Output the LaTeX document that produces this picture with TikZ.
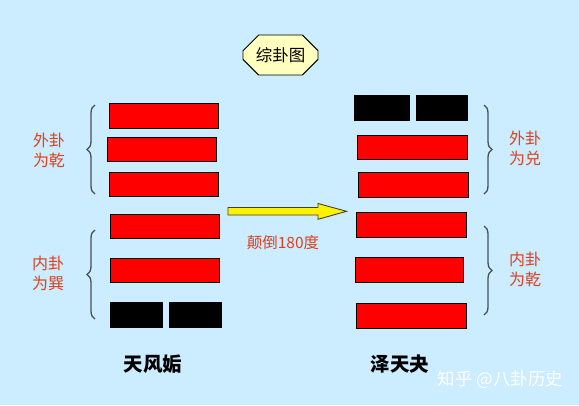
\documentclass[tikz,border=0pt]{standalone}
\usepackage{fontspec}
\newfontfamily\cjk{Noto Sans CJK SC}
\usetikzlibrary{decorations.pathreplacing,shapes.misc}
\definecolor{bg}{RGB}{204,236,255}
\definecolor{lbl}{RGB}{222,64,30}
\definecolor{boxy}{RGB}{255,255,192}
\definecolor{brc}{RGB}{70,80,85}
\tikzset{
  yang/.style={draw=black,line width=0.9pt,fill=red},
  yin/.style={draw=black,line width=0.9pt,fill=black},
  side/.style={text=lbl,font=\cjk\fontsize{16}{20}\selectfont,align=center,inner sep=0pt},
  bracestyle/.style={draw=brc,line width=1.3pt,decorate,decoration={brace,amplitude=8pt}},
  hexname/.style={font=\cjk\bfseries\fontsize{19.5}{22}\selectfont,inner sep=0pt},
}
\begin{document}
\begin{tikzpicture}[x=1pt,y=-1pt]
\fill[bg] (0,0) rectangle (579,405);
\useasboundingbox (0,0) rectangle (579,405);
% title
\node[draw=black,line width=0.9pt,fill=boxy,chamfered rectangle,
  chamfered rectangle xsep=8pt,chamfered rectangle ysep=8pt,
  minimum width=75pt,minimum height=40pt,inner sep=0pt,
  font=\cjk\fontsize{16.5}{18}\selectfont] (title) at (280.5,55) {综卦图};
% left hexagram
\draw[yang] (109,103) rectangle (218,128);
\draw[yang] (107.5,137) rectangle (216.5,161);
\draw[yang] (109,172) rectangle (218.5,196);
\draw[yang] (110.5,214) rectangle (219.5,238);
\draw[yang] (110.5,258) rectangle (219.5,282.5);
\draw[yin] (110,302) rectangle (162.5,327);
\draw[yin] (169.5,302) rectangle (221,327);
% right hexagram
\draw[yin] (354,95) rectangle (409,120);
\draw[yin] (416,95) rectangle (467.5,120);
\draw[yang] (357.5,135) rectangle (467.5,159);
\draw[yang] (358.5,172.5) rectangle (468.5,197);
\draw[yang] (356,212) rectangle (466.5,237);
\draw[yang] (355.5,257.5) rectangle (463.5,282);
\draw[yang] (356,303.5) rectangle (466.5,328);
% braces
\draw[bracestyle] (95,194) -- (95,105);
\draw[bracestyle] (95,319) -- (95,230);
\draw[bracestyle] (484,105) -- (484,194);
\draw[bracestyle] (484,226) -- (484,315);
% side labels
\node[side] (lo) at (49,150) {外卦\\为乾};
\node[side] (li) at (48,273) {内卦\\为巽};
\node[side] (ro) at (525,148) {外卦\\为兑};
\node[side] (ri) at (525,269) {内卦\\为乾};
% arrow
\draw[fill=yellow,draw=black!70!olive,line width=0.9pt,line join=miter]
  (228,207.5) -- (318,207.5) -- (318,203.5) -- (346.5,211.3) -- (318,219.3)
  -- (318,215) -- (228,215) -- cycle;
\node[text=lbl,font=\cjk\fontsize{15.5}{18}\selectfont,inner sep=0pt] (rot) at (283,242.5) {颠倒180度};
% names
\node[hexname] (n1) at (153,364) {天风姤};
\node[hexname] (n2) at (400,364) {泽天夬};
\node[text=white,font=\cjk\fontsize{17.5}{20}\selectfont,inner sep=0pt] (wm) at (500.5,380) {知乎 @八卦历史};
\end{tikzpicture}
\end{document}
